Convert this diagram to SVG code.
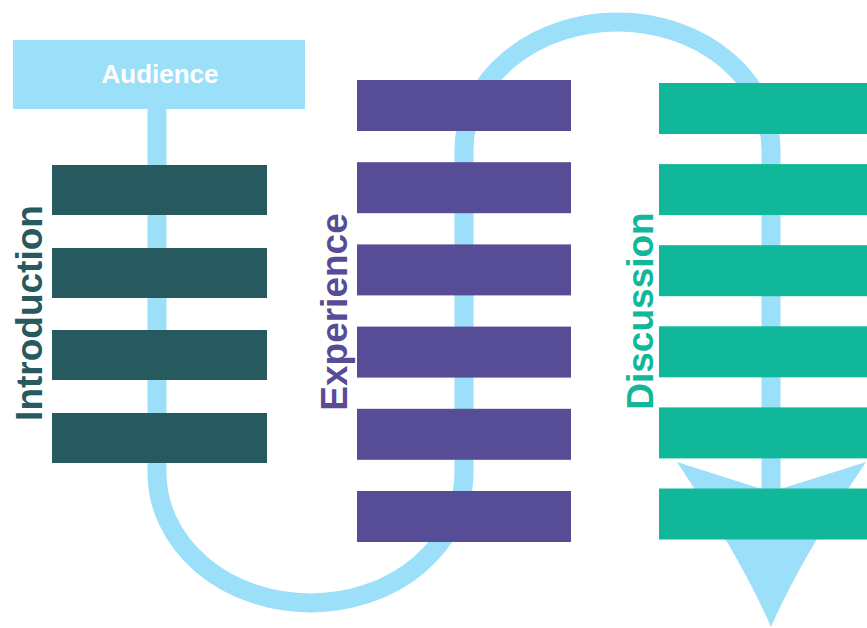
<svg xmlns="http://www.w3.org/2000/svg" width="867" height="628" viewBox="0 0 867 628">
<style>
.flow{fill:none;stroke:#9bdff8;stroke-width:19}
.head{fill:#9bdff8}
.intro{fill:#265a5e}
.exp{fill:#574c96}
.disc{fill:#10b799}
.lbl{font-family:"Liberation Sans",Arial,sans-serif;font-weight:bold;font-size:37px;text-anchor:middle}
</style>
<rect width="867" height="628" fill="#ffffff"/>
<g id="connectors">
<path class="flow" d="M157,105 L157,473 A153.5,130 0 0 0 464,473 L464,150 A153.5,128 0 0 1 771,150 L771,495"/>
<path class="head" d="M677,462 L771,492 L866,462 Q800,560 771,627 Q742,560 677,462 Z"/>
</g>
<g id="audience">
<rect x="13" y="40" width="292" height="69" fill="#9bdff8"/>
<text x="160" y="83" font-family="Liberation Sans, Arial, sans-serif" font-weight="bold" font-size="26" fill="#ffffff" text-anchor="middle">Audience</text>
</g>
<g id="introduction">
<rect class="intro" x="52" y="165" width="215" height="50"/>
<rect class="intro" x="52" y="248" width="215" height="50"/>
<rect class="intro" x="52" y="330" width="215" height="50"/>
<rect class="intro" x="52" y="413" width="215" height="50"/>
<text class="lbl" fill="#265a5e" transform="translate(42,313) rotate(-90)">Introduction</text>
</g>
<g id="experience">
<rect class="exp" x="357" y="80" width="214" height="51"/>
<rect class="exp" x="357" y="162.2" width="214" height="51"/>
<rect class="exp" x="357" y="244.4" width="214" height="51"/>
<rect class="exp" x="357" y="326.6" width="214" height="51"/>
<rect class="exp" x="357" y="408.8" width="214" height="51"/>
<rect class="exp" x="357" y="491" width="214" height="51"/>
<text class="lbl" fill="#574c96" transform="translate(347,312) rotate(-90)">Experience</text>
</g>
<g id="discussion">
<rect class="disc" x="659" y="83" width="208" height="51"/>
<rect class="disc" x="659" y="164.1" width="208" height="51"/>
<rect class="disc" x="659" y="245.2" width="208" height="51"/>
<rect class="disc" x="659" y="326.3" width="208" height="51"/>
<rect class="disc" x="659" y="407.4" width="208" height="51"/>
<rect class="disc" x="659" y="488.5" width="208" height="51"/>
<text class="lbl" fill="#10b799" transform="translate(653,311) rotate(-90)">Discussion</text>
</g>
</svg>
